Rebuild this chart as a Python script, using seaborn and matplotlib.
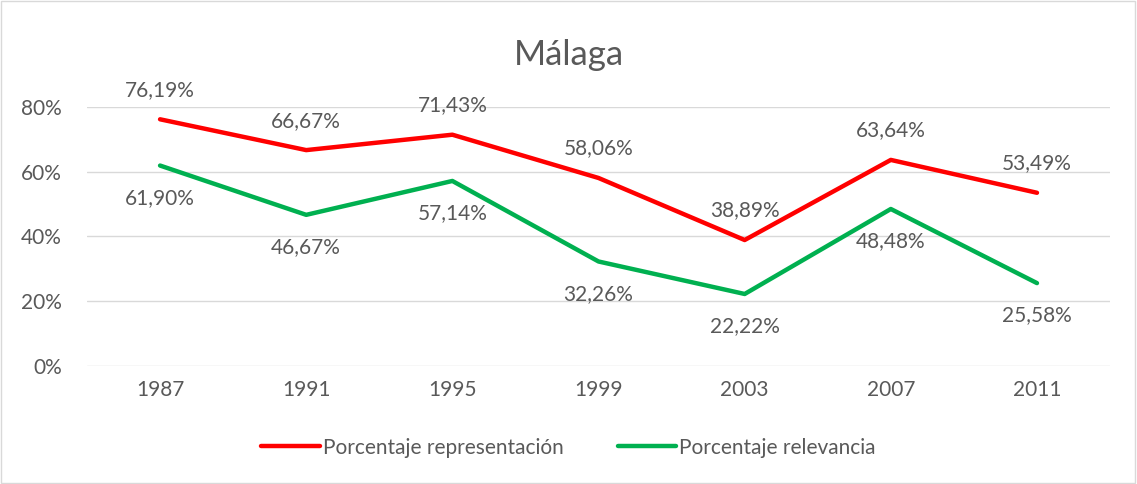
import pandas as pd
import seaborn as sns
import matplotlib.pyplot as plt
from matplotlib.ticker import PercentFormatter

years = ["1987", "1991", "1995", "1999", "2003", "2007", "2011"]
representacion = [76.19, 66.67, 71.43, 58.06, 38.89, 63.64, 53.49]
relevancia = [61.90, 46.67, 57.14, 32.26, 22.22, 48.48, 25.58]
series_names = ["Porcentaje representación", "Porcentaje relevancia"]
colors = ["#FF0000", "#00B050"]

df = pd.DataFrame({
    "year": years * 2,
    "value": representacion + relevancia,
    "serie": [series_names[0]] * len(years) + [series_names[1]] * len(years),
})

sns.set_style("white")
plt.rcParams["font.family"] = ["Lato", "DejaVu Sans"]
grey = "#595959"
fs = 15

fig = plt.figure(figsize=(11.37, 4.84), dpi=100)
ax = fig.add_axes([0.0765, 0.244, 0.8998, 0.535])

sns.lineplot(data=df, x="year", y="value", hue="serie", palette=colors,
             linewidth=3.2, ax=ax, sort=False)

ax.set_xlim(-0.5, len(years) - 0.5)
ax.set_ylim(0, 80)
ax.set_yticks([0, 20, 40, 60, 80])
ax.yaxis.set_major_formatter(PercentFormatter(decimals=0))
ax.grid(axis="y", color="#D9D9D9", linewidth=1)
ax.set_axisbelow(True)
for s in ax.spines.values():
    s.set_visible(False)
ax.tick_params(axis="both", length=0, labelsize=fs, colors=grey)
ax.tick_params(axis="y", pad=18)
ax.tick_params(axis="x", pad=10)
ax.set_xlabel("")
ax.set_ylabel("")

def fmt(v):
    return f"{v:.2f}%".replace(".", ",")

for i, v in enumerate(representacion):
    ax.annotate(fmt(v), (i, v), xytext=(0, 14), textcoords="offset points",
                ha="center", va="bottom", fontsize=fs, color=grey)
for i, v in enumerate(relevancia):
    ax.annotate(fmt(v), (i, v), xytext=(0, -16), textcoords="offset points",
                ha="center", va="top", fontsize=fs, color=grey)

fig.text(0.5, 0.887, "Málaga", ha="center", va="center", fontsize=25, color=grey)

ax.legend_.remove()
handles, labels = ax.get_legend_handles_labels()
fig.legend(handles, labels, loc="center", bbox_to_anchor=(0.5, 0.075), ncol=2,
           frameon=False, fontsize=fs, labelcolor=grey, handlelength=2.8,
           handletextpad=0.15, columnspacing=2.6)

fig.patches.append(plt.Rectangle((0.001, 0.002), 0.997, 0.995, transform=fig.transFigure,
                                 fill=False, edgecolor="#D9D9D9", linewidth=1))

fig.savefig("out.png", dpi=100)
